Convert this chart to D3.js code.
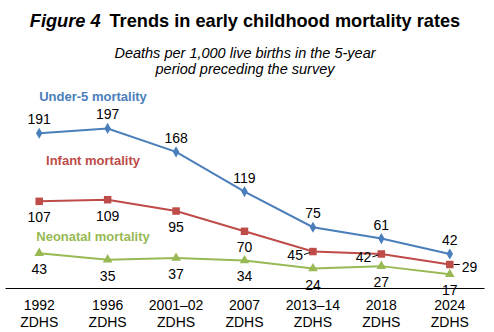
<!DOCTYPE html>
<html>
<head>
<meta charset="utf-8">
<script src="https://cdn.jsdelivr.net/npm/d3@7"></script>
<style>
  body { margin: 0; background: #fff; }
  svg { font-family: "Liberation Sans", Arial, sans-serif; }
</style>
</head>
<body>
<div id="chart"></div>
<script>
const surveys = ["1992", "1996", "2001\u201302", "2007", "2013\u201314", "2018", "2024"];
const under5 = [191, 197, 168, 119, 75, 61, 42];
const infant = [107, 109, 95, 70, 45, 42, 29];
const neonatal = [43, 35, 37, 34, 24, 27, 17];

const width = 494, height = 332;

const svg = d3.select("#chart").append("svg")
  .attr("width", width)
  .attr("height", height);

// title
const title = svg.append("text")
  .attr("x", 245)
  .attr("y", 27)
  .attr("text-anchor", "middle")
  .style("font-size", "18.2px")
  .style("font-weight", "bold")
  .style("fill", "#000");
title.append("tspan").style("font-style", "italic").text("Figure 4");
title.append("tspan").attr("dx", 9).text("Trends in early childhood mortality rates");

svg.append("text")
  .attr("x", 245).attr("y", 58)
  .attr("text-anchor", "middle")
  .style("font-size", "14.5px")
  .style("font-style", "italic")
  .text("Deaths per 1,000 live births in the 5-year");
svg.append("text")
  .attr("x", 245).attr("y", 74)
  .attr("text-anchor", "middle")
  .style("font-size", "14.5px")
  .style("font-style", "italic")
  .text("period preceding the survey");

const x = d3.scaleBand().domain(surveys).range([5, 484]);
const cx = d => x(d) + x.bandwidth() / 2;
const y = d3.scaleLinear().domain([0, 250]).range([288, 85.5]);

// x axis
const xAxis = svg.append("g")
  .attr("transform", "translate(0,288)")
  .call(d3.axisBottom(x).tickSize(0).tickFormat(""));
xAxis.select(".domain").attr("stroke", "#000").attr("stroke-width", 1.2);

const catLabels = svg.append("g").selectAll("text")
  .data(surveys).join("text")
  .attr("x", d => cx(d))
  .attr("y", 310)
  .attr("text-anchor", "middle")
  .style("font-size", "14px")
  .style("fill", "#000");
catLabels.append("tspan").attr("x", d => cx(d)).text(d => d);
catLabels.append("tspan").attr("x", d => cx(d)).attr("dy", 17).text("ZDHS");

const series = [
  { name: "Under-5 mortality", values: under5, color: "#4a7ebb", marker: d3.symbolDiamond, msize: 36,
    place: ["above", "above", "above", "above", "above", "above", "above"],
    lx: 93, ly: 101 },
  { name: "Infant mortality", values: infant, color: "#be4b48", marker: d3.symbolSquare, msize: 56,
    place: ["below", "below", "below", "below", "left", "left", "right"],
    lx: 93, ly: 165 },
  { name: "Neonatal mortality", values: neonatal, color: "#98b954", marker: d3.symbolTriangle, msize: 40,
    place: ["below", "below", "below", "below", "below", "below", "below"],
    lx: 93, ly: 241 }
];

const line = d3.line().x((d, i) => cx(surveys[i])).y(d => y(d));

series.forEach(s => {
  const g = svg.append("g");
  g.append("path")
    .datum(s.values)
    .attr("d", line)
    .attr("fill", "none")
    .attr("stroke", s.color)
    .attr("stroke-width", 2);

  g.selectAll(".pt").data(s.values).join("path")
    .attr("class", "pt")
    .attr("transform", (d, i) => `translate(${cx(surveys[i])},${y(d)})`)
    .attr("d", d3.symbol().type(s.marker).size(s.msize))
    .attr("fill", s.color);

  s.values.forEach((v, i) => {
    const px = cx(surveys[i]), py = y(v);
    const p = s.place[i];
    let tx = px, ty = py, anchor = "middle";
    if (p === "above") { ty = py - 9; }
    else if (p === "below") { ty = py + 21; }
    else if (p === "left") {
      tx = px - 10; ty = py + 8; anchor = "end";
      g.append("line")
        .attr("x1", px - 9).attr("y1", py + 3)
        .attr("x2", px - 3).attr("y2", py + 1)
        .attr("stroke", "#000").attr("stroke-width", 1);
    } else if (p === "right") {
      tx = px + 12; ty = py + 7; anchor = "start";
      g.append("line")
        .attr("x1", px + 4).attr("y1", py)
        .attr("x2", px + 10).attr("y2", py)
        .attr("stroke", "#000").attr("stroke-width", 1);
    }
    g.append("text")
      .attr("x", tx).attr("y", ty)
      .attr("text-anchor", anchor)
      .style("font-size", "14px")
      .style("fill", "#000")
      .text(v);
  });

  svg.append("text")
    .attr("x", s.lx).attr("y", s.ly)
    .attr("text-anchor", "middle")
    .style("font-size", "13px")
    .style("font-weight", "bold")
    .style("fill", s.color)
    .text(s.name);
});
</script>
</body>
</html>
